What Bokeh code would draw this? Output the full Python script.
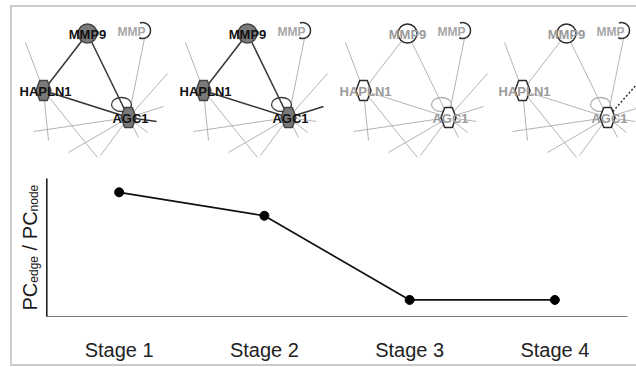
import math
from bokeh.plotting import figure
from bokeh.layouts import column, row
from bokeh.models import Range1d, FactorRange, FixedTicker, ColumnDataSource
from bokeh.core.properties import value
from bokeh.embed import file_html
from bokeh.resources import INLINE

# ---------------- data ----------------
stages = ["Stage 1", "Stage 2", "Stage 3", "Stage 4"]
pc_ratio = [0.90, 0.73, 0.12, 0.12]

# network (panel-local coordinates, same layout in each panel)
node_names = ["MMP9", "HAPLN1", "AGC1"]
node_x = [87, 43, 128]
node_y = [33, 90, 117]
node_shape = ["circle", "hex", "hex"]
core_edges = [(0, 1), (0, 2), (1, 2)]
stub_from = [1, 1, 1, 2, 2, 2, 2, 2, 2, 2, 2, 2]
stub_x = [25, 48, 97, 68, 100, 138, 147, 167, 163, 156, 33, 144]
stub_y = [42, 140, 157, 152, 155, 137, 132, 73, 106, 121, 131, 38]
part_label = "MMP"
part_x = 142
part_y = 30
panel_offset = [0, 160, 320, 479]
panel_active = [True, True, False, False]
panel_stub_style = [{9: "dark"}, {8: "dark"}, {}, {7: "dotted"}]

# y-axis title pieces: (text, font px, is_subscript, advance px)
ytitle = [("PC", 20, 0, 27.8), ("edge", 12, 1, 32.3), ("/", 20, 0, 11.2),
          ("PC", 20, 0, 27.8), ("node", 12, 1, 26.7)]

FONT = value("Liberation Sans")

# ---------------- top: networks ----------------
top = figure(width=624, height=153, x_range=Range1d(12, 636), y_range=Range1d(160, 7),
             x_axis_location=None, y_axis_location=None, toolbar_location=None,
             output_backend="svg", min_border=0, outline_line_color=None)
top.grid.visible = False

gray_seg = dict(x0=[], y0=[], x1=[], y1=[])
dark_seg = dict(x0=[], y0=[], x1=[], y1=[])
dot_seg = dict(x0=[], y0=[], x1=[], y1=[])
hex_xs, hex_ys, hex_fill, hex_line = [], [], [], []
circ = dict(x=[], y=[], fill=[], line=[])
lab = dict(x=[], y=[], text=[], color=[])
loop = dict(x=[], y=[], color=[])
arcs = dict(x=[], y=[])
plab = dict(x=[], y=[], text=[])

def add(seg, a, b, c, d):
    seg["x0"].append(a); seg["y0"].append(b); seg["x1"].append(c); seg["y1"].append(d)

for off, active, sty in zip(panel_offset, panel_active, panel_stub_style):
    for i, (f, sx, sy) in enumerate(zip(stub_from, stub_x, stub_y)):
        s = sty.get(i, "gray")
        seg = {"gray": gray_seg, "dark": dark_seg, "dotted": dot_seg}[s]
        add(seg, node_x[f] + off, node_y[f], sx + off, sy)
    for a, b in core_edges:
        add(dark_seg if active else gray_seg, node_x[a] + off, node_y[a], node_x[b] + off, node_y[b])
    loop["x"].append(node_x[2] + off - 7); loop["y"].append(node_y[2] - 13)
    loop["color"].append("#3a3a3a" if active else "#b0b0b0")
    fill = "#7a7a7a" if active else "#ffffff"
    line = "#444444" if active else "#2a2a2a"
    for nm, nx, ny, shp in zip(node_names, node_x, node_y, node_shape):
        cx = nx + off
        if shp == "hex":
            hw, hh = 7.5, 10
            hex_xs.append([cx - hw, cx - hw / 2, cx + hw / 2, cx + hw, cx + hw / 2, cx - hw / 2])
            hex_ys.append([ny, ny - hh, ny - hh, ny, ny + hh, ny + hh])
            hex_fill.append(fill); hex_line.append(line)
        else:
            circ["x"].append(cx); circ["y"].append(ny); circ["fill"].append(fill); circ["line"].append(line)
        lab["x"].append(cx + (2 if nm != "MMP9" else 0)); lab["y"].append(ny + 1)
        lab["text"].append(nm); lab["color"].append("#111111" if active else "#9a9a9a")
    arcs["x"].append(part_x + off); arcs["y"].append(part_y)
    plab["x"].append(part_x - 11 + off); plab["y"].append(part_y + 1); plab["text"].append(part_label)

top.segment(source=ColumnDataSource(gray_seg), x0="x0", y0="y0", x1="x1", y1="y1",
            line_color="#b4b4b4", line_width=1)
top.segment(source=ColumnDataSource(dark_seg), x0="x0", y0="y0", x1="x1", y1="y1",
            line_color="#333333", line_width=1.5)
top.segment(source=ColumnDataSource(dot_seg), x0="x0", y0="y0", x1="x1", y1="y1",
            line_color="#333333", line_width=1.5, line_dash="2 2")
top.ellipse(source=ColumnDataSource(loop), x="x", y="y", width=20, height=14,
            fill_color=None, line_color="color", line_width=1.3)
top.arc(source=ColumnDataSource(arcs), x="x", y="y", radius=8, start_angle=-2.0, end_angle=1.9,
        direction="anticlock", line_color="#333333", line_width=1.5)
top.text(source=ColumnDataSource(plab), x="x", y="y", text="text", text_font=FONT,
         text_font_style="bold", text_font_size="12px", text_color="#a8a8a8",
         text_align="center", text_baseline="middle")
top.patches(xs=hex_xs, ys=hex_ys, fill_color=hex_fill, line_color=hex_line, line_width=1.5)
top.scatter(source=ColumnDataSource(circ), x="x", y="y", marker="circle", size=19,
            fill_color="fill", line_color="line", line_width=1.5)
top.text(source=ColumnDataSource(lab), x="x", y="y", text="text", text_font=FONT,
         text_font_style="bold", text_font_size="13px", text_color="color",
         text_align="center", text_baseline="middle")

# ---------------- bottom: y title strip ----------------
FRAME_TOP, FRAME_BOTTOM = 178, 316
yl = figure(width=34, height=204, x_range=Range1d(12, 46), y_range=Range1d(0, 1),
            x_axis_location=None, y_axis_location=None, toolbar_location=None,
            output_backend="svg", outline_line_color=None,
            min_border_left=0, min_border_right=0, min_border_top=18, min_border_bottom=48)
yl.grid.visible = False
t_x, t_y, t_txt, t_size = [], [], [], []
pos = 310.0
for txt, fs, sub, adv in ytitle:
    t_x.append(29.5 + 4.0 * sub)
    t_y.append((FRAME_BOTTOM - pos) / (FRAME_BOTTOM - FRAME_TOP))
    t_txt.append(txt)
    t_size.append(f"{fs}px")
    pos -= adv
yl.text(x=t_x, y=t_y, text=t_txt, text_font_size=t_size, angle=math.pi / 2,
        text_font=FONT, text_color="#1a1a1a", text_align="left", text_baseline="middle")

# ---------------- bottom: line chart ----------------
bot = figure(width=590, height=204, x_range=FactorRange(factors=stages), y_range=Range1d(0, 1),
             toolbar_location=None, output_backend="svg", outline_line_color=None,
             min_border_left=0, min_border_right=9, min_border_top=18, min_border_bottom=48)
bot.grid.visible = False
bot.xaxis.axis_line_color = "#7a7a7a"
bot.xaxis.axis_line_width = 1.2
bot.xaxis.major_tick_line_color = None
bot.xaxis.major_tick_out = 0
bot.xaxis.major_label_text_font = "Liberation Sans"
bot.xaxis.major_label_text_font_size = "20px"
bot.xaxis.major_label_text_color = "#222222"
bot.xaxis.major_label_standoff = 22
bot.yaxis.ticker = FixedTicker(ticks=[])
bot.yaxis.axis_line_color = "#222222"
bot.yaxis.axis_line_width = 2.2
bot.yaxis.major_tick_line_color = None
bot.yaxis.minor_tick_line_color = None
bot.yaxis.major_tick_out = 0
bot.yaxis.major_label_standoff = 0
bot.yaxis.major_label_text_font_size = "0px"

bot.line(x=stages, y=pc_ratio, line_color="#111111", line_width=1.7)
bot.scatter(x=stages, y=pc_ratio, size=9, marker="circle", fill_color="#000000", line_color="#000000")

layout = column(top, row(yl, bot),
                styles={"margin-left": "10px", "margin-top": "5px",
                        "border-left": "2px solid #cccccc", "border-top": "2px solid #cccccc",
                        "border-bottom": "2px solid #cccccc", "border-right": "0px none"})

open("out.html", "w").write(file_html(layout, INLINE))
